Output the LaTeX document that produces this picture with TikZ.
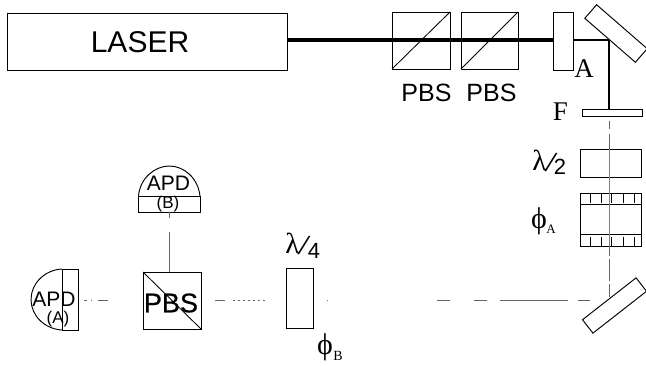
\documentclass[tikz,border=0pt]{standalone}
\usepackage{fontspec}
\setmainfont{Liberation Sans}
\newfontfamily\serifx{Liberation Serif}
\newfontfamily\heavyx[FakeBold=0.5]{Liberation Sans}
\usetikzlibrary{calc}
\tikzset{
  optic/.style={draw=black,line width=0.95pt,inner sep=0pt,outer sep=0pt,fill=none},
  lab/.style={inner sep=0pt,outer sep=0pt,text=black},
  slashlab/.style={inner sep=0pt,outer sep=0pt,text=black,xslant=0.35,transform shape,font=\fontsize{25}{25}\selectfont},
  main/.style={line width=1.7pt,black},
  thickbeam/.style={line width=3.2pt,black},
  thinline/.style={line width=0.85pt,black},
  grayline/.style={line width=0.8pt,black!50},
  faint/.style={line width=0.8pt,black!60},
}
\begin{document}
\begin{tikzpicture}[x=1pt,y=-1pt]
\useasboundingbox (0,0) rectangle (646,365);
% boxes
\node[optic,minimum width=280pt,minimum height=57pt] (laser) at (147,41.5) {};
\node[lab,font=\fontsize{30}{30}\selectfont] (lasertxt) at (140,42) {LASER};
\node[optic,minimum width=58pt,minimum height=57pt] (pbsa) at (421,40.5) {};
\node[optic,minimum width=57pt,minimum height=57pt] (pbsb) at (489.5,40.5) {};
\draw[thinline] (pbsa.south west) -- (pbsa.north east);
\draw[thinline] (pbsb.south west) -- (pbsb.north east);
\node[lab,font=\fontsize{25}{25}\selectfont] (pbsalab) at (426.5,93) {PBS};
\node[lab,font=\fontsize{25}{25}\selectfont] (pbsblab) at (491.5,93) {PBS};
\node[optic,minimum width=20pt,minimum height=58pt] (plate) at (563,41) {};
\node[optic,minimum width=67pt,minimum height=18pt,rotate=-41] (mirrora) at (616,33.5) {};
\node[optic,minimum width=60pt,minimum height=7pt] (filter) at (612,113) {};
\coordinate (corner) at (609,40);
\node[lab,font=\fontsize{27}{27}\selectfont\serifx] (alab) at (584,69) {A};
\node[lab,font=\fontsize{27}{27}\selectfont\serifx] (flab) at (560.5,112) {F};
\node[optic,minimum width=61pt,minimum height=28pt] (halfwave) at (610.5,163) {};
\node[lab] (hlam) at (539.5,160) {\fontsize{29}{29}\serifx λ};
\node[slashlab] (hslash) at (551,163) {/};
\node[lab,font=\fontsize{22}{22}\selectfont] (htwo) at (560,167) {2};
\node[optic,minimum width=61pt,minimum height=53pt] (phia) at (610.5,219.5) {};
\draw[optic] (phia.west |- 0,204) -- (phia.east |- 0,204);
\draw[optic] (phia.west |- 0,234) -- (phia.east |- 0,234);
\foreach \tx in {590,601,611,623,634}{
  \draw[thinline] (\tx,194) -- (\tx,203);
  \draw[thinline] (\tx,237) -- (\tx,246);
}
\node[lab,font=\fontsize{30}{30}\selectfont\serifx] (phialab) at (539,221) {ϕ};
\node[lab,font=\fontsize{13}{13}\selectfont\serifx] (phiasub) at (551,229.5) {A};
\node[optic,minimum width=68pt,minimum height=17pt,rotate=38] (mirrorb) at (614.5,305.5) {};
\coordinate (cornerb) at (609,300);
% lower
\node[optic,minimum width=27pt,minimum height=60pt] (quarter) at (299.5,298) {};
\node[lab] (qlam) at (292.5,243) {\fontsize{29}{29}\serifx λ};
\node[slashlab] (qslash) at (304,246) {/};
\node[lab,font=\fontsize{22}{22}\selectfont] (qfour) at (314,251) {4};
\node[lab,font=\fontsize{30}{30}\selectfont\serifx] (phiblab) at (325,347.5) {ϕ};
\node[lab,font=\fontsize{14}{14}\selectfont\serifx] (phibsub) at (338,356) {B};
\node[optic,minimum width=58pt,minimum height=57pt] (pbsc) at (172,300.5) {};
\draw[thinline] (pbsc.north west) -- (pbsc.south east);
\node[lab,font=\fontsize{27}{27}\heavyx] (pbsclab) at (171,303) {PBS};
% APD B
\coordinate (bl) at (138.5,196);
\coordinate (br) at (200,196);
\draw[optic] (bl) -- ++(0,16) -- ++(61.5,0) -- (br) -- cycle;
\draw[optic] (bl) .. controls (140,178) and (155,166) .. (169.25,166) .. controls (184,166) and (198,178) .. (br);
\node[lab,font=\fontsize{21}{21}\selectfont] (apdb) at (168.5,183.5) {APD};
\node[lab,font=\fontsize{17}{17}\selectfont] (apdbt) at (168,204) {(B)};
\coordinate (apdbbot) at (169.5,212);
% APD A
\coordinate (at) at (62,269);
\coordinate (ab) at (62,330);
\draw[optic] (at) -- ++(16,0) -- ++(0,61) -- (ab);
\draw[thinline] (at) -- (ab);
\draw[optic] (at) .. controls (44,270) and (31,284) .. (31,299.5) .. controls (31,315) and (44,329) .. (ab);
\node[lab,font=\fontsize{21}{21}\selectfont] (apda) at (54,299.5) {APD};
\node[lab,font=\fontsize{17}{17}\selectfont] (apdat) at (58,319.5) {(A)};
\coordinate (apdae) at (78,299);
% beams
\draw[thickbeam] (laser.east |- corner) -- (plate.west |- corner);
\draw[main] (plate.east |- corner) -- (corner) -- (corner |- filter.north);
\draw[faint,dash pattern=on 0pt off 4pt on 8pt off 5pt on 15pt] (corner |- filter.south) -- (corner |- halfwave.north);
\draw[grayline] (corner |- halfwave.north) -- (corner |- phia.south);
\draw[faint,dash pattern=on 10pt off 3pt on 22pt off 3pt on 13pt] (corner |- phia.south) -- (cornerb);
\draw[faint,dash pattern=on 0pt off 19pt on 12pt off 10pt on 68pt off 13pt on 13pt off 24pt on 13pt off 109pt on 1pt off 20pt on 7pt off 20pt] (cornerb) -- (quarter.east |- cornerb);
\draw[faint,dash pattern=on 0pt off 21pt on 2pt off 3pt on 2pt off 3pt on 2pt off 3pt on 2pt off 3pt on 2pt off 3pt on 2pt off 3pt on 2pt off 8pt on 10pt off 50pt] (quarter.west |- cornerb) -- (pbsc.east |- cornerb);
\draw[faint,dash pattern=on 0pt off 35pt on 10pt off 6pt on 1pt off 4pt on 3pt off 50pt] (pbsc.west |- cornerb) -- (apdae |- cornerb);
\draw[faint,dash pattern=on 6pt off 14pt on 40pt off 10pt] (apdbbot) -- (apdbbot |- pbsc.north);
\end{tikzpicture}
\end{document}
